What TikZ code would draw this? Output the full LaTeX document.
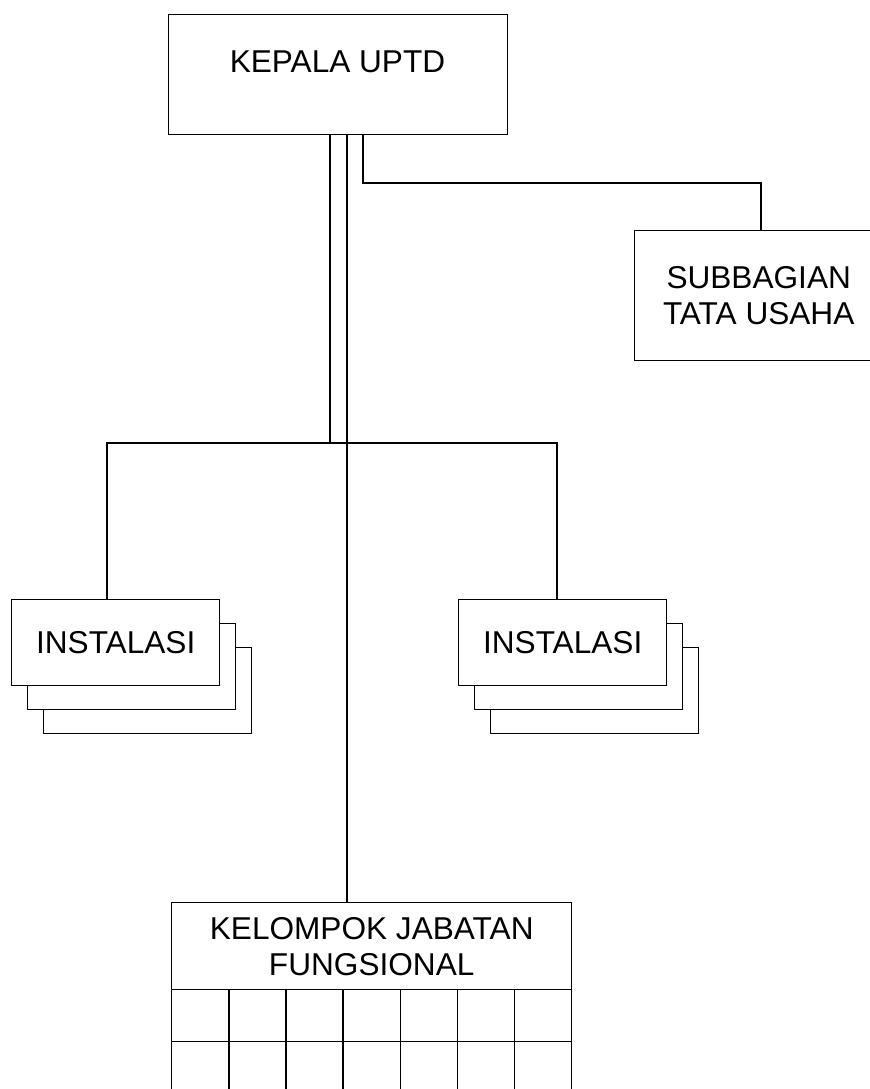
\documentclass[tikz,border=0pt]{standalone}
\usepackage{fontspec}
\setmainfont{Liberation Sans}
\usepackage{tikz}
\usetikzlibrary{positioning}
\tikzset{
  box/.style={rectangle, draw=black, fill=white, line width=0.7pt, anchor=north west,
              align=center, inner sep=0pt, font=\fontsize{15.8}{18}\selectfont},
  instbox/.style={box, minimum width=104pt, minimum height=43pt},
  cell/.style={box, minimum width=28.57pt, minimum height=26pt},
  lbl/.style={font=\fontsize{15.8}{18}\selectfont, inner sep=0pt},
  conn/.style={draw=black, line width=0.7pt}
}

\begin{document}
\begin{tikzpicture}[x=0.5pt, y=-0.5pt]
  \useasboundingbox (0,0) rectangle (870,1089);
  \clip (0,0) rectangle (870,1089);

  % head
  \node[box, minimum width=169.5pt, minimum height=60pt] (kepala) at (168,14) {};
  \node[lbl] (kepalaText) at (337.5,62) {KEPALA UPTD};
  \node[box, minimum width=124pt, minimum height=65pt] (tu) at (634,230) {SUBBAGIAN\\TATA USAHA};

  % instalasi (stacked)
  \foreach \k in {2,1} {
    \node[instbox] (instL-\k) at ({11+16*\k},{599+24*\k}) {};
    \node[instbox] (instR-\k) at ({458+16*\k},{599+24*\k}) {};
  }
  \node[instbox] (instL) at (11,599) {INSTALASI};
  \node[instbox] (instR) at (458,599) {INSTALASI};

  % kelompok jabatan fungsional
  \node[box, minimum width=200pt, minimum height=43.5pt] (kjf) at (171,902) {KELOMPOK JABATAN\\FUNGSIONAL};
  \foreach \r in {0,1}
    \foreach \c in {0,...,6}
      \node[cell] (cell-\r-\c) at ({171+400/7*\c},{989+52*\r}) {};

  % lines
  \coordinate (bar) at (330,443);
  \coordinate (stem) at (347,443);
  \coordinate (dropL) at (107,443);
  \coordinate (dropR) at (557,443);
  \coordinate (tuTurn) at (761,183);
  \coordinate (tuStart) at (363,183);

  \draw[conn] (kepala.south -| bar) -- (bar);
  \draw[conn] (dropL |- instL.north) -- (dropL) -- (dropR) -- (dropR |- instR.north);
  \draw[conn] (kepala.south -| stem) -- (stem |- kjf.north);
  \draw[conn] (kepala.south -| tuStart) -- (tuStart) -- (tuTurn) -- (tuTurn |- tu.north);
\end{tikzpicture}
\end{document}
